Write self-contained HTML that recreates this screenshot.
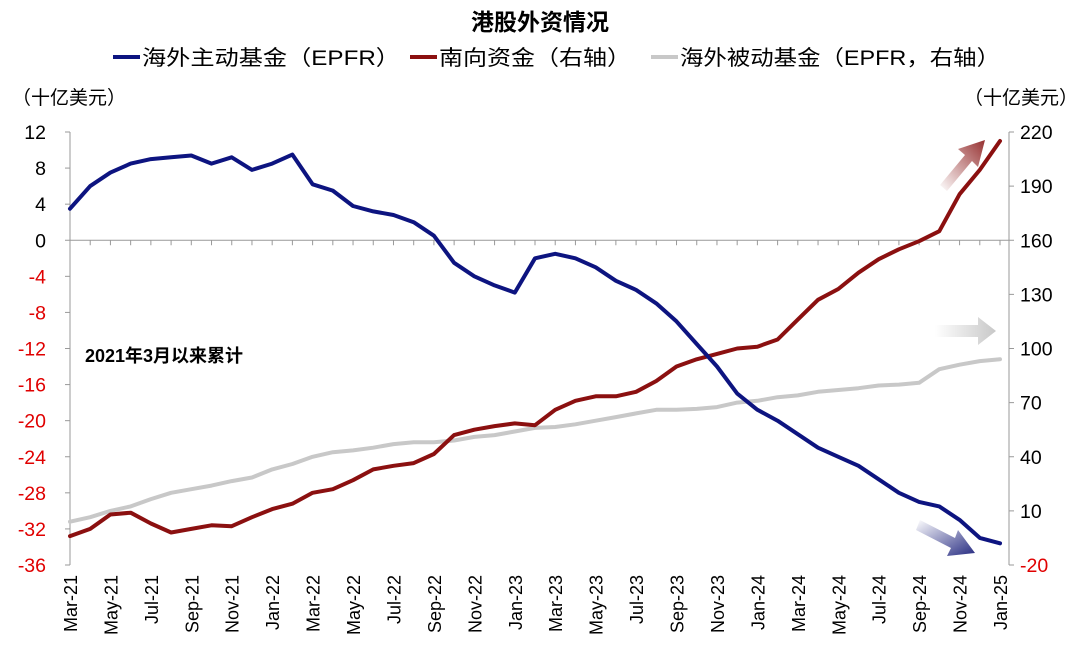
<!DOCTYPE html>
<html><head><meta charset="utf-8"><style>
body{margin:0;background:#fff;}
svg text{font-family:"Liberation Sans","Noto Sans CJK SC",sans-serif;}
</style></head><body>
<svg id="chart" width="1080" height="663" viewBox="0 0 1080 663" xmlns="http://www.w3.org/2000/svg">
<defs>
<linearGradient id="gr" x1="0" y1="1" x2="1" y2="0"><stop offset="0" stop-color="#8b1a1a" stop-opacity="0"/><stop offset="1" stop-color="#8b1a1a" stop-opacity="0.9"/></linearGradient>
<linearGradient id="gg" x1="0" y1="0" x2="1" y2="0"><stop offset="0" stop-color="#c8c8c8" stop-opacity="0"/><stop offset="1" stop-color="#c8c8c8"/></linearGradient>
<linearGradient id="gb" x1="0" y1="0" x2="1" y2="1"><stop offset="0" stop-color="#1a1f7a" stop-opacity="0"/><stop offset="1" stop-color="#1a1f7a" stop-opacity="0.95"/></linearGradient>
</defs>
<text x="540" y="30" text-anchor="middle" font-size="23" font-weight="bold">港股外资情况</text>
<g font-size="21">
<line x1="113" y1="57" x2="140" y2="57" stroke="#0d1480" stroke-width="4"/>
<text x="142" y="65" textLength="258" lengthAdjust="spacingAndGlyphs">海外主动基金（EPFR）</text>
<line x1="410" y1="57" x2="437" y2="57" stroke="#8b1010" stroke-width="4"/>
<text x="439" y="65" textLength="192" lengthAdjust="spacingAndGlyphs">南向资金（右轴）</text>
<line x1="651" y1="57" x2="678" y2="57" stroke="#c8c8c8" stroke-width="4"/>
<text x="680" y="65" textLength="320" lengthAdjust="spacingAndGlyphs">海外被动基金（EPFR，右轴）</text>
</g>
<text x="12" y="104" font-size="19">（十亿美元）</text>
<text x="1078" y="104" font-size="19" text-anchor="end">（十亿美元）</text>
<text x="85" y="362" font-size="18" font-weight="bold">2021年3月以来累计</text>
<polygon points="940,185 965,155 958,149 985,140 978,167 972,161 947,191" fill="url(#gr)"/>
<polygon points="935,325 978,325 978,317 996,331 978,345 978,337 935,337" fill="url(#gg)"/>
<polygon points="920,520 955,538 958,530 975,553 947,556 951,548 916,530" fill="url(#gb)"/>
<g id="axes"></g>
<g id="series"></g>
</svg>
<script>
const months=["Mar-21","Apr-21","May-21","Jun-21","Jul-21","Aug-21","Sep-21","Oct-21","Nov-21","Dec-21","Jan-22","Feb-22","Mar-22","Apr-22","May-22","Jun-22","Jul-22","Aug-22","Sep-22","Oct-22","Nov-22","Dec-22","Jan-23","Feb-23","Mar-23","Apr-23","May-23","Jun-23","Jul-23","Aug-23","Sep-23","Oct-23","Nov-23","Dec-23","Jan-24","Feb-24","Mar-24","Apr-24","May-24","Jun-24","Jul-24","Aug-24","Sep-24","Oct-24","Nov-24","Dec-24","Jan-25"];
const activeFund=[3.5,6,7.5,8.5,9,9.2,9.4,8.5,9.2,7.8,8.5,9.5,6.2,5.5,3.8,3.2,2.8,2,0.5,-2.5,-4,-5,-5.8,-2,-1.5,-2,-3,-4.5,-5.5,-7,-9,-11.5,-14,-17,-18.8,-20,-21.5,-23,-24,-25,-26.5,-28,-29,-29.5,-31,-33,-33.6];
const southbound=[-4,0,8,9,3,-2,0,2,1.5,6.5,11,14,20,22,27,33,35,36.5,41.5,52,55,57,58.5,57.5,66,71,73.5,73.5,76,82,90,94,97,100,101,105,116,127,133,142,149.5,155,159.5,165,185.5,199,215];
const passiveFund=[4,6.5,10,12.5,16.5,20,22,24,26.5,28.5,33,36,40,42.5,43.5,45,47,48,48,49,51,52,54,56,56.5,58,60,62,64,66,66,66.5,67.5,70,71,73,74,76,77,78,79.5,80,81,88.5,91,93,94];
const leftTicks=[12,8,4,0,-4,-8,-12,-16,-20,-24,-28,-32,-36];
const rightTicks=[220,190,160,130,100,70,40,10,-20];
const NS="http://www.w3.org/2000/svg";
const X0=70,X1=1000,Y0=132,Y1=565;
const xs=i=>X0+(X1-X0)*i/(months.length-1);
const yl=v=>Y0+(12-v)*(Y1-Y0)/48;
const yr=v=>Y0+(220-v)*(Y1-Y0)/240;
function mk(tag,attrs,parent){const e=document.createElementNS(NS,tag);for(const k in attrs)e.setAttribute(k,attrs[k]);parent.appendChild(e);return e;}
const ax=document.getElementById('axes');
let l=mk('line',{x1:X0,y1:Y0,x2:X0,y2:Y1,stroke:'#999','stroke-width':1},ax);


l=mk('line',{x1:1009,y1:Y0,x2:1009,y2:Y1,stroke:'#999','stroke-width':1},ax);


l=mk('line',{x1:X0,y1:yl(0),x2:1009,y2:yl(0),stroke:'#999','stroke-width':1},ax);


leftTicks.forEach(v=>{
 mk('line',{x1:X0-5,y1:yl(v),x2:X0,y2:yl(v),stroke:'#999'},ax);
 const t=mk('text',{x:46,y:yl(v)+7,'font-size':19.5,'text-anchor':'end',fill:v<0?'#e00000':'#000'},ax);
 t.textContent=v;
 
 
});
rightTicks.forEach(v=>{
 mk('line',{x1:1009,y1:yr(v),x2:1014,y2:yr(v),stroke:'#999'},ax);
 const t=mk('text',{x:1020,y:yr(v)+7,'font-size':19.5,fill:v<0?'#e00000':'#000'},ax);
 t.textContent=v;
 
 
});
months.forEach((m,i)=>{
 mk('line',{x1:xs(i),y1:yl(0),x2:xs(i),y2:yl(0)+5,stroke:'#999'},ax);
 if(i%2===0){
  const t=mk('text',{x:0,y:0,'font-size':18,'text-anchor':'end',transform:`translate(${xs(i)+7},575) rotate(-90)`},ax);
  t.textContent=m;
  
  
 }
});
const sg=document.getElementById('series');
function line(data,yf,color,name){
 const d=data.map((v,i)=>(i?'L':'M')+xs(i).toFixed(1)+','+yf(v).toFixed(1)).join('');
 const p=mk('path',{d:d,fill:'none',stroke:color,'stroke-width':4,'stroke-linejoin':'round','stroke-linecap':'round'},sg);
 
 
}
line(passiveFund,yr,'#c8c8c8','passive-fund-line');
line(southbound,yr,'#8b1010','southbound-line');
line(activeFund,yl,'#0d1480','active-fund-line');
</script>
</body></html>
